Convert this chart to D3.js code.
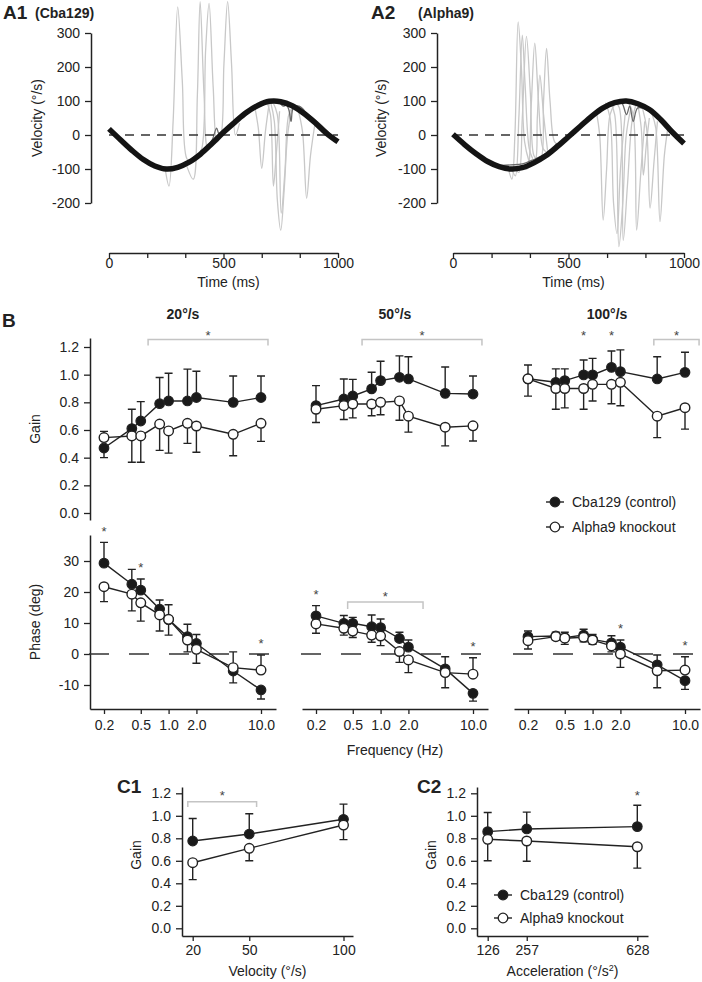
<!DOCTYPE html>
<html><head><meta charset="utf-8">
<script src="https://cdn.jsdelivr.net/npm/d3@7"></script>
<style>
body{margin:0;background:#fff;}
svg{display:block;}
</style></head><body>
<svg id="c" width="702" height="982"></svg>
<script>
// ================= DATA =================
const timeTicks = [0, 167, 333, 500, 667, 833, 1000];
const timeLabels = [0, 500, 1000];
const velTicks = [300, 200, 100, 0, -100, -200];

// A1 (Cba129) eye velocity traces [time ms, velocity deg/s]
const blackA1 = [[0,18],[50,-14],[100,-45],[150,-72],[200,-91],[250,-100],[300,-95],[350,-80],[400,-56],[450,-25],[500,8],[550,38],[600,66],[650,87],[700,99],[750,98],[800,86],[850,64],[900,36],[950,5],[1000,-20]];
const darkA1 = [
  [[320,-92],[350,-75],[380,-60],[420,-40],[450,-15],[470,20],[480,5],[510,15],[560,45]],
  [[740,98],[770,95],[785,75],[795,40],[805,80],[830,85],[870,60],[900,45],[940,20],[980,-5]],
  [[650,90],[700,100],[740,97],[760,85],[780,90],[820,78],[860,55],[900,30],[950,0]]
];
const lightA1 = [
  [[245,-98],[262,-150],[280,40],[300,377],[320,160],[340,-70],[360,-80]],
  [[335,-82],[368,-130],[386,120],[398,392],[415,120],[432,-40],[450,-30]],
  [[385,-62],[405,-40],[422,250],[437,387],[455,140],[472,-20],[490,0]],
  [[470,-15],[485,-10],[502,210],[518,392],[535,210],[552,0],[570,35]],
  [[635,88],[652,20],[667,-98],[683,10],[700,95]],
  [[705,99],[722,40],[735,-190],[750,-280],[765,-160],[780,0],[800,85]],
  [[715,98],[735,60],[752,-230],[768,-110],[785,60],[805,85]],
  [[690,96],[705,60],[718,-150],[730,-60],[745,70]],
  [[825,76],[845,10],[863,-186],[880,-60],[900,36]]
];
// A2 (Alpha9)
const blackA2 = [[0,2],[50,-28],[100,-55],[150,-78],[200,-93],[250,-100],[300,-96],[350,-82],[400,-62],[450,-35],[500,-5],[550,25],[600,55],[650,80],[700,95],[750,100],[800,92],[850,75],[900,45],[950,8],[1000,-25]];
const darkA2 = [
  [[200,-90],[250,-88],[300,-85],[350,-72],[400,-55],[450,-25]],
  [[700,97],[730,95],[751,60],[765,85],[780,40],[800,80],[850,70],[900,45],[950,15]]
];
const lightA2 = [
  [[240,-100],[255,-130],[268,0],[282,333],[296,200],[310,-20],[330,-80]],
  [[255,-100],[270,-120],[285,50],[300,294],[312,150],[330,-40],[345,-70]],
  [[270,-100],[285,-110],[300,50],[318,290],[335,120],[350,-60],[365,-72]],
  [[300,-95],[320,-100],[338,80],[354,270],[370,100],[390,-40],[405,-50]],
  [[340,-85],[355,-80],[365,50],[376,176],[392,60],[410,-50]],
  [[360,-75],[380,-70],[392,100],[405,255],[420,100],[440,-20],[460,-30]],
  [[620,70],[635,0],[650,-250],[665,-100],[680,60],[700,90]],
  [[660,95],[680,50],[695,-200],[710,-290],[725,-100],[745,60]],
  [[680,98],[700,60],[718,-328],[735,-200],[750,0],[770,80]],
  [[700,100],[720,80],[737,-310],[755,-150],[775,40],[790,85]],
  [[760,95],[780,60],[795,-280],[812,-120],[830,40]],
  [[800,90],[815,20],[824,-118],[838,-20],[850,50]],
  [[820,80],[838,20],[853,-215],[870,-80],[885,40]],
  [[860,65],[878,20],[896,-255],[915,-60],[930,20]]
];

// B: frequency responses
const freqs = [0.2, 0.4, 0.5, 0.8, 1.0, 1.6, 2.0, 5.0, 10.0];
const freqTicks = [0.2, 0.5, 1.0, 2.0, 10.0];
const stimVelocities = ["20°/s", "50°/s", "100°/s"];
const gainTicks = [0, 0.2, 0.4, 0.6, 0.8, 1.0, 1.2];
const phaseTicks = [-10, 0, 10, 20, 30];

const gainCtrl = [
  [0.47, 0.61, 0.665, 0.79, 0.81, 0.81, 0.835, 0.80, 0.835],
  [0.776, 0.824, 0.846, 0.897, 0.957, 0.981, 0.969, 0.865, 0.86],
  [0.97, 0.945, 0.957, 0.998, 0.998, 1.053, 1.022, 0.969, 1.017]
];
const gainCtrlErr = [
  [-0.07, 0.14, 0.14, 0.19, 0.20, 0.23, 0.19, 0.19, 0.155],
  [0.145, 0.145, 0.12, 0.12, 0.14, 0.155, 0.16, 0.19, 0.13],
  [0.10, 0.097, 0.085, 0.108, 0.12, 0.118, 0.157, 0.16, 0.145]
];
const gainKO = [
  [0.545, 0.557, 0.557, 0.643, 0.593, 0.648, 0.629, 0.569, 0.648],
  [0.75, 0.776, 0.788, 0.788, 0.80, 0.81, 0.70, 0.62, 0.63],
  [0.97, 0.90, 0.90, 0.90, 0.93, 0.93, 0.945, 0.70, 0.761]
];
const gainKOErr = [
  [0.045, -0.19, -0.19, -0.19, -0.16, -0.145, -0.19, -0.155, -0.13],
  [-0.096, -0.10, -0.10, -0.085, -0.09, -0.14, -0.115, -0.135, -0.11],
  [-0.125, -0.15, -0.14, -0.15, -0.12, -0.14, -0.17, -0.155, -0.155]
];
const phaseCtrl = [
  [29.3, 22.5, 20.6, 14.5, 11.1, 5.6, 3.4, -5.5, -11.6],
  [12.3, 9.9, 9.9, 8.8, 8.5, 5.0, 2.2, -4.8, -12.7],
  [5.6, 5.8, 5.3, 6.1, 4.7, 3.6, 2.2, -3.5, -8.6]
];
const phaseCtrlErr = [
  [6.7, 4.8, 3.6, 2.9, 4.8, 4.0, 2.9, -3.8, -2.9],
  [3.3, 2.5, 1.9, 3.8, 2.8, 2.0, 2.3, 3.9, -2.5],
  [1.8, 1.2, 1.7, 1.9, 1.6, 2.3, 2.3, 3.2, -2.8]
];
const phaseKO = [
  [21.7, 19.3, 16.5, 12.6, 11.2, 4.5, 1.5, -4.4, -5.2],
  [9.7, 8.3, 7.4, 6.1, 5.8, 0.8, -1.9, -6.0, -6.5],
  [4.3, 5.6, 5.1, 5.4, 4.5, 2.6, 0.0, -5.4, -5.2]
];
const phaseKOErr = [
  [-4.8, -5.4, -5.9, -5.2, -5.1, -3.8, -4.5, 5.1, 4.9],
  [-3.0, -2.2, -2.1, -2.3, -3.1, -3.5, -4.1, -4.9, 5.3],
  [-2.7, -1.1, -2.0, -1.5, -1.4, -1.9, -4.3, -5.5, 4.3]
];
// significance marks
const gainBrackets = [[0.6, 11.9], [0.63, 12.5], [4.6, 14.2]];
const gainStarFreqs = [[], [], [0.8, 1.6]];
const phaseBrackets = [null, [0.44, 2.88], null];
const phaseStarFreqs = [[0.2, 0.5, 10.0], [0.2, 10.0], [2.0, 10.0]];

// C1: gain vs velocity
const c1Vel = [20, 50, 100];
const c1Ctrl = [0.776, 0.838, 0.969];
const c1CtrlErr = [0.20, 0.18, 0.135];
const c1KO = [0.583, 0.711, 0.918];
const c1KOErr = [-0.15, -0.11, -0.13];
const c1Bracket = [17.4, 53.9];
// C2: gain vs acceleration
const c2Acc = [126, 257, 628];
const c2Ctrl = [0.859, 0.883, 0.904];
const c2CtrlErr = [0.17, 0.15, 0.19];
const c2KO = [0.791, 0.776, 0.725];
const c2KOErr = [-0.19, -0.18, -0.19];
const c2StarAcc = [628];

const legendLabels = ["Cba129 (control)", "Alpha9 knockout"];

// ================= DRAWING =================
const FONT = '"Liberation Sans", Arial, Helvetica, sans-serif';
const INK = "#222";
const svg = d3.select("#c").attr("font-family", FONT);

function styleAxis(g){
  g.attr("font-family", FONT).attr("font-size", 14);
  g.select(".domain").attr("stroke", INK).attr("stroke-width", 1.5);
  g.selectAll(".tick line").attr("stroke", INK).attr("stroke-width", 1.3);
  g.selectAll(".tick text").attr("fill", INK);
}
function label(x, y, str, o = {}){
  const t = svg.append("text").attr("x", x).attr("y", y).text(str)
    .attr("font-size", o.size || 14).attr("fill", o.fill || INK)
    .attr("font-weight", o.bold ? "bold" : "normal")
    .attr("text-anchor", o.anchor || "start");
  if (o.rot) t.attr("transform", `rotate(-90,${x},${y})`);
  return t;
}
function star(x, yc){
  svg.append("text").attr("x", x).attr("y", yc + 7.4).attr("text-anchor", "middle")
    .attr("font-size", 13).attr("fill", "#444").text("*");
}
function bracket(x1, x2, y, yb){
  svg.append("path").attr("d", `M${x1},${yb}V${y}H${x2}V${yb}`)
    .attr("fill", "none").attr("stroke", "#c4c4c4").attr("stroke-width", 1.5);
}

// ---------- Panel A ----------
function panelA(o){
  const xs = d3.scaleLinear().domain([0, 1000]).range(o.xr);
  const ys = d3.scaleLinear().domain([-200, 300]).range([203, 33]);
  const g = svg.append("g");
  const ln = d3.line().curve(d3.curveCatmullRom.alpha(0.5)).x(d => xs(d[0])).y(d => ys(d[1]));
  g.selectAll(".lt").data(o.light).join("path").attr("d", ln)
    .attr("fill", "none").attr("stroke", "#c8c8c8").attr("stroke-width", 1.3);
  g.selectAll(".dk").data(o.dark).join("path").attr("d", ln)
    .attr("fill", "none").attr("stroke", "#6a6a6a").attr("stroke-width", 1.3);
  g.append("line").attr("x1", xs(0)).attr("x2", xs(1000)).attr("y1", ys(0)).attr("y2", ys(0))
    .attr("stroke", "#333").attr("stroke-width", 1.4).attr("stroke-dasharray", "9,7");
  g.append("path").datum(o.black).attr("d", ln)
    .attr("fill", "none").attr("stroke", "#141414").attr("stroke-width", 5.5).attr("stroke-linejoin", "round");
  const ya = g.append("g").attr("transform", `translate(${o.ax},0)`)
    .call(d3.axisLeft(ys).tickValues(velTicks).tickFormat(d => String(d)).tickSize(6).tickPadding(5).tickSizeOuter(0));
  styleAxis(ya);
  const xa = g.append("g").attr("transform", "translate(0,253)")
    .call(d3.axisBottom(xs).tickValues(timeTicks).tickFormat(d => timeLabels.includes(d) ? String(d) : "").tickSize(5).tickPadding(0).tickSizeOuter(0));
  styleAxis(xa);
  label(o.ylx, 118, "Velocity (°/s)", {anchor: "middle", rot: true});
  label((o.xr[0] + o.xr[1]) / 2 + 5, 287, "Time (ms)", {anchor: "middle"});
  label(o.tx, 19, o.tag, {size: 19, bold: true});
  label(o.sx, 18, o.sub, {size: 14, bold: true});
}
panelA({xr: [109, 338], ax: 91, light: lightA1, dark: darkA1, black: blackA1, ylx: 42, tx: 3, tag: "A1", sx: 35, sub: "(Cba129)"});
panelA({xr: [453, 684], ax: 437, light: lightA2, dark: darkA2, black: blackA2, ylx: 386, tx: 371, tag: "A2", sx: 418, sub: "(Alpha9)"});

// ---------- shared series drawing ----------
function drawSeries(g, xv, ctrl, cErr, ko, kErr, xs, ys){
  const cap = 4;
  const bars = [];
  xv.forEach((x, i) => {
    bars.push([x, ctrl[i], cErr[i]]);
    bars.push([x, ko[i], kErr[i]]);
  });
  g.selectAll(".eb").data(bars).join("path")
    .attr("d", d => { const X = xs(d[0]), y0 = ys(d[1]), y1 = ys(d[1] + d[2]); return `M${X},${y0}V${y1}M${X - cap},${y1}H${X + cap}`; })
    .attr("stroke", INK).attr("stroke-width", 1.4).attr("fill", "none");
  const ln = d3.line().x(d => xs(d[0])).y(d => ys(d[1]));
  const cPts = xv.map((x, i) => [x, ctrl[i]]);
  const kPts = xv.map((x, i) => [x, ko[i]]);
  g.append("path").datum(cPts).attr("d", ln).attr("fill", "none").attr("stroke", INK).attr("stroke-width", 1.4);
  g.append("path").datum(kPts).attr("d", ln).attr("fill", "none").attr("stroke", INK).attr("stroke-width", 1.4);
  g.selectAll(".mc").data(cPts).join("circle").attr("cx", d => xs(d[0])).attr("cy", d => ys(d[1])).attr("r", 4.8)
    .attr("fill", "#1a1a1a").attr("stroke", INK).attr("stroke-width", 1.2);
  g.selectAll(".mk").data(kPts).join("circle").attr("cx", d => xs(d[0])).attr("cy", d => ys(d[1])).attr("r", 4.8)
    .attr("fill", "#fff").attr("stroke", INK).attr("stroke-width", 1.4);
}
function legend(x, y, dy){
  legendLabels.forEach((t, i) => {
    const yy = y + i * dy;
    svg.append("line").attr("x1", x - 9).attr("x2", x + 9).attr("y1", yy).attr("y2", yy).attr("stroke", INK).attr("stroke-width", 1.4);
    svg.append("circle").attr("cx", x).attr("cy", yy).attr("r", 4.8)
      .attr("fill", i === 0 ? "#1a1a1a" : "#fff").attr("stroke", INK).attr("stroke-width", 1.3);
    label(x + 17, yy + 5, t, {size: 14});
  });
}

// ---------- Panel B ----------
label(2, 327, "B", {size: 19, bold: true});
const panelX0 = [90, 302, 514];
const panelW = 186;
panelX0.forEach((x0, p) => {
  const fx = d3.scaleLog().domain([0.2, 10]).range([x0 + 14, x0 + 171]);
  const fxAxis = fx.copy().domain([fx.invert(x0), fx.invert(x0 + panelW)]).range([x0, x0 + panelW]);
  const gy = d3.scaleLinear().domain([0, 1.2]).range([513, 347]);
  const py = d3.scaleLinear().domain([0, 30]).range([654, 561]);

  label(x0 + panelW / 2, 319, stimVelocities[p], {size: 14, bold: true, anchor: "middle"});

  // gain
  if (p === 0){
    const gyAxis = gy.copy().domain([gy.invert(520), gy.invert(338)]).range([520, 338]);
    const a = svg.append("g").attr("transform", `translate(${x0},0)`)
      .call(d3.axisLeft(gyAxis).tickValues(gainTicks).tickFormat(d3.format(".1f")).tickSize(6).tickPadding(5).tickSizeOuter(0));
    styleAxis(a);
    label(40, 429, "Gain", {anchor: "middle", rot: true});
  }
  const gg = svg.append("g");
  drawSeries(gg, freqs, gainCtrl[p], gainCtrlErr[p], gainKO[p], gainKOErr[p], fx, gy);
  const br = gainBrackets[p];
  bracket(fx(br[0]), fx(br[1]), gy(1.255), gy(1.21));
  star((fx(br[0]) + fx(br[1])) / 2, gy(1.305));
  gainStarFreqs[p].forEach(f => star(fx(f), gy(1.305)));

  // phase
  if (p === 0){
    const pyAxis = py.copy().domain([py.invert(709), py.invert(535)]).range([709, 535]);
    const a = svg.append("g").attr("transform", `translate(${x0},0)`)
      .call(d3.axisLeft(pyAxis).tickValues(phaseTicks).tickFormat(d => String(d)).tickSize(6).tickPadding(5).tickSizeOuter(0));
    styleAxis(a);
    label(40, 622, "Phase (deg)", {anchor: "middle", rot: true});
  }
  svg.append("line").attr("x1", x0 - 1).attr("x2", x0 + panelW).attr("y1", py(0)).attr("y2", py(0))
    .attr("stroke", "#333").attr("stroke-width", 1.5).attr("stroke-dasharray", "20,20");
  const xa = svg.append("g").attr("transform", "translate(0,709)")
    .call(d3.axisBottom(fxAxis).tickValues(freqTicks).tickFormat(d3.format(".1f")).tickSize(5).tickPadding(6).tickSizeOuter(0));
  styleAxis(xa);
  const pg = svg.append("g");
  drawSeries(pg, freqs, phaseCtrl[p], phaseCtrlErr[p], phaseKO[p], phaseKOErr[p], fx, py);
  phaseStarFreqs[p].forEach(f => {
    const i = freqs.indexOf(f);
    const top = Math.max(phaseCtrl[p][i] + Math.max(phaseCtrlErr[p][i], 0), phaseKO[p][i] + Math.max(phaseKOErr[p][i], 0));
    star(fx(f), py(top) - 14);
  });
  const pb = phaseBrackets[p];
  if (pb){
    bracket(fx(pb[0]), fx(pb[1]), py(16.8), py(14.5));
    star((fx(pb[0]) + fx(pb[1])) / 2, py(19.4));
  }
});
label(395, 755, "Frequency (Hz)", {anchor: "middle"});
legend(555, 502, 25);

// ---------- Panel C ----------
function panelC(o){
  const xs = d3.scaleLinear().domain(o.dom).range(o.rng);
  const xsAxis = xs.copy().domain([xs.invert(o.ax0), xs.invert(o.ax1)]).range([o.ax0, o.ax1]);
  const ys = d3.scaleLinear().domain([0, 1.2]).range([928.3, 793.3]);
  const ysAxis = ys.copy().domain([ys.invert(936), ys.invert(787)]).range([936, 787]);
  const ya = svg.append("g").attr("transform", `translate(${o.ax0},0)`)
    .call(d3.axisLeft(ysAxis).tickValues(gainTicks).tickFormat(d3.format(".1f")).tickSize(6).tickPadding(5).tickSizeOuter(0));
  styleAxis(ya);
  const xa = svg.append("g").attr("transform", "translate(0,936)")
    .call(d3.axisBottom(xsAxis).tickValues(o.x).tickFormat(d => String(d)).tickSize(5).tickPadding(4).tickSizeOuter(0));
  styleAxis(xa);
  const g = svg.append("g");
  drawSeries(g, o.x, o.ctrl, o.cErr, o.ko, o.kErr, xs, ys);
  if (o.bracket){
    bracket(xs(o.bracket[0]), xs(o.bracket[1]), ys(1.125), ys(1.078));
    star((xs(o.bracket[0]) + xs(o.bracket[1])) / 2, ys(1.203));
  }
  (o.stars || []).forEach(v => star(xs(v), ys(1.205)));
  label(o.ax0 - 41, 855, "Gain", {anchor: "middle", rot: true});
  label(o.tagx, 793, o.tag, {size: 19, bold: true});
  return (o.ax0 + o.ax1) / 2;
}
const cx1 = panelC({dom: [20, 100], rng: [192.7, 343.5], ax0: 182, ax1: 353, x: c1Vel, ctrl: c1Ctrl, cErr: c1CtrlErr, ko: c1KO, kErr: c1KOErr, bracket: c1Bracket, tag: "C1", tagx: 117});
label(cx1, 976, "Velocity (°/s)", {anchor: "middle"});
const cx2 = panelC({dom: [126, 628], rng: [487.7, 637.3], ax0: 477, ax1: 648, x: c2Acc, ctrl: c2Ctrl, cErr: c2CtrlErr, ko: c2KO, kErr: c2KOErr, stars: c2StarAcc, tag: "C2", tagx: 417});
const acc = label(cx2, 976, "Acceleration (°/s", {anchor: "middle"});
acc.append("tspan").attr("dy", -5).attr("font-size", 9).text("2");
acc.append("tspan").attr("dy", 5).text(")");
legend(503, 895, 23);
</script></body></html>
